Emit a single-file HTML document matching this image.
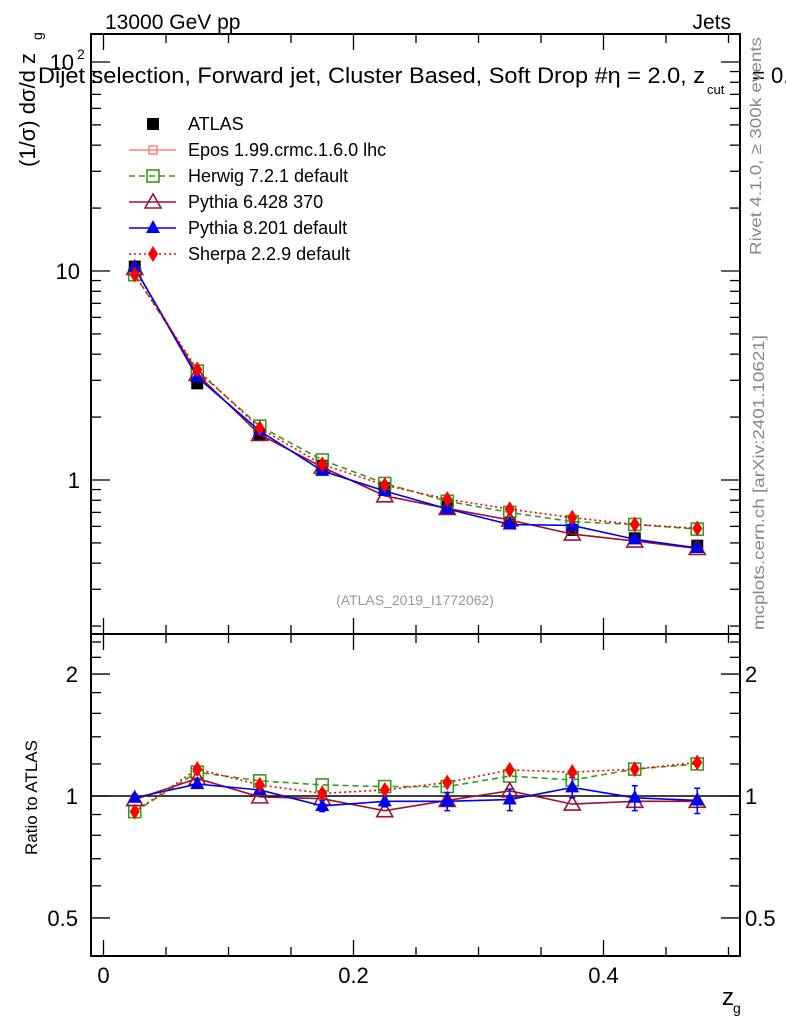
<!DOCTYPE html>
<html><head><meta charset="utf-8">
<style>
body{margin:0;background:#fff;}
svg{display:block;font-family:"Liberation Sans",sans-serif;}
</style></head>
<body>
<svg id="c" width="786" height="1024" viewBox="0 0 786 1024">
<g id="frame"></g>
</svg>
<script>
const xCenters=[0.025,0.075,0.125,0.175,0.225,0.275,0.325,0.375,0.425,0.475];
const atlas=[10.5,2.9,1.66,1.17,0.913,0.75,0.625,0.577,0.526,0.485];
const herwigRatio=[0.915,1.145,1.09,1.065,1.055,1.055,1.12,1.095,1.165,1.2];
const sherpaRatio=[0.915,1.165,1.065,1.015,1.035,1.08,1.16,1.145,1.165,1.21];
const py6Ratio=[0.98,1.105,0.995,0.985,0.92,0.975,1.03,0.955,0.97,0.97];
const py8Ratio=[0.99,1.07,1.035,0.945,0.97,0.97,0.98,1.05,0.99,0.975];
const py8Err=[0.02,0.02,0.02,0.03,0.03,0.05,0.06,0.06,0.07,0.07];
const mainTicks=["10\u00B2","10","1"];
const ratioTicks=["2","1","0.5"];
const xTicks=["0","0.2","0.4"];

const NS="http://www.w3.org/2000/svg";
const svg=document.getElementById('c');
function el(t,a,p){const e=document.createElementNS(NS,t);for(const k in a)e.setAttribute(k,a[k]);(p||svg).appendChild(e);return e;}
const L=91,R=740,T=34,M=634,B=956;
const X=v=>103.5+v*1250;
const Y=v=>480-Math.log10(v)*209;
const YR=v=>796-Math.log10(v)*405;

let f=el('rect',{x:L,y:T,width:R-L,height:M-T,fill:'none',stroke:'#000','stroke-width':2});

f=el('rect',{x:L,y:M,width:R-L,height:B-M,fill:'none',stroke:'#000','stroke-width':2});


for(let i=0;i<=10;i++){const v=i*0.05,x=X(v);const big=i%4==0;const len=big?16:9;
 el('line',{x1:x,y1:T,x2:x,y2:T+len,stroke:'#000','stroke-width':1.3});
 el('line',{x1:x,y1:M,x2:x,y2:M-len,stroke:'#000','stroke-width':1.3});
 el('line',{x1:x,y1:M,x2:x,y2:M+len,stroke:'#000','stroke-width':1.3});
 el('line',{x1:x,y1:B,x2:x,y2:B-len,stroke:'#000','stroke-width':1.3});}
xTicks.forEach((t,i)=>{const e=el('text',{x:X(i*0.2),y:983,'font-size':22,'text-anchor':'middle'});e.textContent=t;
 });

for(let d=-1;d<=2;d++){for(let m=1;m<10;m++){const v=m*Math.pow(10,d);const y=Y(v);if(y<T||y>M)continue;const len=m==1?19:10;
 el('line',{x1:L,y1:y,x2:L+len,y2:y,stroke:'#000','stroke-width':1.3});
 el('line',{x1:R,y1:y,x2:R-len,y2:y,stroke:'#000','stroke-width':1.3});}}
[[100,"10"],[10,"10"],[1,"1"]].forEach((p,i)=>{const e=el('text',{x:i==0?74:80,y:Y(p[0])+8,'font-size':22,'text-anchor':'end'});e.textContent=p[1];
 
 if(i==0){const s=el('text',{x:77,y:Y(100)-3,'font-size':14});s.textContent='2';}});
[0.5,0.6,0.7,0.8,0.9,1,1.2,1.4,1.6,1.8,2,2.2,2.4].forEach(v=>{const y=YR(v);const big=(v==0.5||v==1||v==2);const len=big?19:10;
 el('line',{x1:L,y1:y,x2:L+len,y2:y,stroke:'#000','stroke-width':1.3});
 el('line',{x1:R,y1:y,x2:R-len,y2:y,stroke:'#000','stroke-width':1.3});});
[2,1,0.5].forEach((v,i)=>{let e=el('text',{x:78,y:YR(v)+8,'font-size':22,'text-anchor':'end'});e.textContent=ratioTicks[i];
 
 e=el('text',{x:745,y:YR(v)+8,'font-size':22});e.textContent=ratioTicks[i];});
el('line',{x1:L,y1:YR(1),x2:R,y2:YR(1),stroke:'#000','stroke-width':1.5});

function txt(s,a,name){const e=el('text',a);e.textContent=s;return e;}
txt('13000 GeV pp',{x:105,y:29,'font-size':21},'energy-label');
txt('Jets',{x:731,y:29,'font-size':21,'text-anchor':'end'},'process-label');
txt('Dijet selection, Forward jet, Cluster Based, Soft Drop #\u03B7 = 2.0, z',{x:38,y:83,'font-size':22,textLength:667,lengthAdjust:'spacingAndGlyphs'},'plot-title');
txt('cut',{x:707,y:94,'font-size':13},'plot-title-sub');
txt('= 0.',{x:752,y:83,'font-size':22},'plot-title-end');
txt('(1/\u03C3) d\u03C3/d z',{x:0,y:0,'font-size':22,transform:'translate(35,167) rotate(-90)'},'y-axis-title');
txt('g',{x:0,y:0,'font-size':14,transform:'translate(42,40) rotate(-90)'},'y-axis-title-sub');
txt('Ratio to ATLAS',{x:0,y:0,'font-size':17,transform:'translate(37,855) rotate(-90)'},'ratio-axis-title');
txt('z',{x:722,y:1005,'font-size':24},'x-axis-title');
txt('g',{x:733,y:1013,'font-size':14},'x-axis-title-sub');
txt('Rivet 4.1.0, \u2265 300k events',{x:0,y:0,'font-size':16,fill:'#888',textLength:218,lengthAdjust:'spacingAndGlyphs',transform:'translate(761,255) rotate(-90)'},'rivet-label');
txt('mcplots.cern.ch [arXiv:2401.10621]',{x:0,y:0,'font-size':16,fill:'#888',textLength:295,lengthAdjust:'spacingAndGlyphs',transform:'translate(764,630) rotate(-90)'},'mcplots-label');
txt('(ATLAS_2019_I1772062)',{x:415,y:605,'font-size':14,fill:'#999','text-anchor':'middle'},'analysis-id');

function marker(type,x,y,color,g){
 if(type=='sq')el('rect',{x:x-6,y:y-6,width:12,height:12,fill:'#000'},g);
 if(type=='osq')el('rect',{x:x-6,y:y-6,width:12,height:12,fill:'none',stroke:color,'stroke-width':1.6},g);
 if(type=='otri')el('polygon',{points:`${x},${y-8} ${x-8},${y+6} ${x+8},${y+6}`,fill:'none',stroke:color,'stroke-width':1.6},g);
 if(type=='tri')el('polygon',{points:`${x},${y-8} ${x-7},${y+5} ${x+7},${y+5}`,fill:color},g);
 if(type=='dia')el('polygon',{points:`${x},${y-8} ${x-5},${y} ${x},${y+8} ${x+5},${y}`,fill:color},g);
 if(type=='cross'){el('rect',{x:x-4,y:y-4,width:8,height:8,fill:'none',stroke:color,'stroke-width':1.5},g);}
}
const series=[
 {name:'herwig',ratio:herwigRatio,color:'#3a9a1a',dash:'6,4',m:'osq'},
 {name:'pythia6',ratio:py6Ratio,color:'#a01030',dash:'',m:'otri'},
 {name:'pythia8',ratio:py8Ratio,color:'#0000ee',dash:'',m:'tri',err:py8Err},
 {name:'sherpa',ratio:sherpaRatio,color:'#ff0000',dash:'2,3',m:'dia'},
];
const ga=el('g',{});
atlas.forEach((v,i)=>marker('sq',X(xCenters[i]),Y(v),'#000',ga));
series.forEach(s=>{
 const g=el('g',{});
 const pts=s.ratio.map((r,i)=>[X(xCenters[i]),Y(r*atlas[i])]);
 el('polyline',{points:pts.map(p=>p.join(',')).join(' '),fill:'none',stroke:s.color,'stroke-width':1.6,'stroke-dasharray':s.dash},g);
 pts.forEach(p=>marker(s.m,p[0],p[1],s.color,g));
 const g2=el('g',{});
 const rp=s.ratio.map((r,i)=>[X(xCenters[i]),YR(r)]);
 el('polyline',{points:rp.map(p=>p.join(',')).join(' '),fill:'none',stroke:s.color,'stroke-width':1.6,'stroke-dasharray':s.dash},g2);
 if(s.err)s.ratio.forEach((r,i)=>{const x=X(xCenters[i]);el('line',{x1:x,y1:YR(r+s.err[i]),x2:x,y2:YR(r-s.err[i]),stroke:s.color,'stroke-width':1.5},g2);
  el('line',{x1:x-3,y1:YR(r+s.err[i]),x2:x+3,y2:YR(r+s.err[i]),stroke:s.color,'stroke-width':1.5},g2);
  el('line',{x1:x-3,y1:YR(r-s.err[i]),x2:x+3,y2:YR(r-s.err[i]),stroke:s.color,'stroke-width':1.5},g2);});
 rp.forEach(p=>marker(s.m,p[0],p[1],s.color,g2));
});

const leg=[['ATLAS','sq','#000',''],['Epos 1.99.crmc.1.6.0 lhc','cross','#ff8080',''],['Herwig 7.2.1 default','osq','#3a9a1a','6,4'],
 ['Pythia 6.428 370','otri','#a01030',''],['Pythia 8.201 default','tri','#0000ee',''],['Sherpa 2.2.9 default','dia','#ff0000','2,3']];
leg.forEach((l,i)=>{const y=124+i*26;const g=el('g',{});
 if(i>0)el('line',{x1:129,y1:y,x2:176,y2:y,stroke:l[2],'stroke-width':1.5,'stroke-dasharray':l[3]},g);
 marker(l[1],153,y,l[2],g);
 const t=el('text',{x:188,y:y+6,'font-size':18},g);t.textContent=l[0];});
</script>
</body></html>
